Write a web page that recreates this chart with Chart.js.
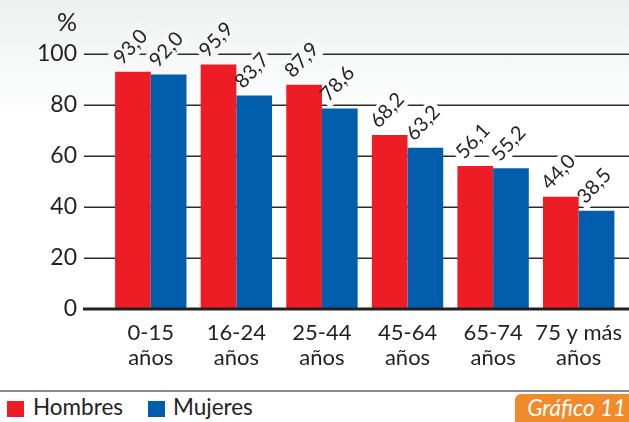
<!DOCTYPE html>
<html lang="es">
<head>
<meta charset="UTF-8">
<title>Gráfico 11</title>
<script src="https://cdn.jsdelivr.net/npm/chart.js"></script>
<style>
  body { margin: 0; width: 629px; height: 422px; overflow: hidden; background: #fff;
         font-family: Lato, "Open Sans", sans-serif; color: #231f20; }
  #zona { position: relative; width: 629px; height: 390px;
          background: linear-gradient(#eef0f0 0px, #ffffff 120px); }
  #pct { position: absolute; left: 57px; top: 6px; font-size: 25px; }
  #pie { position: absolute; left: 0; top: 390px; width: 629px; height: 32px; border-top: 2px solid #8a8a8a; }
  .cuadro { position: absolute; top: 9px; width: 17px; height: 16px; }
  .txt { position: absolute; top: 1px; font-size: 22.5px; line-height: 28px; }
  #graf11 { position: absolute; left: 515px; top: 2px; width: 114px; height: 28px; background: #f18a2b;
            border-top-left-radius: 6px; color: #fff; font-style: italic; font-size: 22.5px;
            line-height: 28px; text-align: right; box-sizing: border-box; padding-right: 3px; }
</style>
</head>
<body>
<div id="zona">
  <canvas id="grafico" width="629" height="390"></canvas>
  <div id="pct">%</div>
</div>
<div id="pie">
  <div class="cuadro" style="left:7px;background:#ee1d25"></div>
  <div class="txt" style="left:33px">Hombres</div>
  <div class="cuadro" style="left:148px;background:#005ead"></div>
  <div class="txt" style="left:173px">Mujeres</div>
  <div id="graf11">Gráfico 11</div>
</div>
<script>
const categorias = [['0-15', 'años'], ['16-24', 'años'], ['25-44', 'años'], ['45-64', 'años'], ['65-74', 'años'], ['75 y más', 'años']];
const hombres = [93.0, 95.9, 87.9, 68.2, 56.1, 44.0];
const mujeres = [92.0, 83.7, 78.6, 63.2, 55.2, 38.5];
const ticksY = [0, 20, 40, 60, 80, 100];

const ROJO = '#ee1d25';
const AZUL = '#005ead';
const ANG = -47 * Math.PI / 180;
const fuenteEtiq = '20px Lato, "Open Sans", sans-serif';

// color del fondo degradado a la altura y
function fondo(y) {
  const t = Math.max(0, Math.min(1, y / 120));
  const c = (a) => Math.round(a + (255 - a) * t);
  return `rgb(${c(238)},${c(240)},${c(240)})`;
}

function fmt(v) { return v.toFixed(1).replace('.', ','); }

function cadaBarra(chart, fn) {
  chart.data.datasets.forEach((ds, i) => {
    chart.getDatasetMeta(i).data.forEach((bar, j) => fn(bar, ds.data[j]));
  });
}

const lineas = {
  id: 'lineas',
  beforeDatasetsDraw(chart) {
    const { ctx } = chart;
    const y = chart.scales.y;
    ctx.save();
    ctx.strokeStyle = '#2b2b2b';
    ctx.lineWidth = 1.5;
    ticksY.filter(v => v > 0).forEach(v => {
      const py = Math.round(y.getPixelForValue(v)) + 0.25;
      ctx.beginPath();
      ctx.moveTo(84, py);
      ctx.lineTo(chart.width, py);
      ctx.stroke();
    });
    // cajas de fondo de las etiquetas (cortan las lineas)
    ctx.font = fuenteEtiq;
    cadaBarra(chart, (bar, v) => {
      const w = ctx.measureText(fmt(v)).width;
      ctx.save();
      ctx.translate(bar.x - 11, bar.y - 6);
      ctx.rotate(ANG);
      ctx.fillStyle = fondo(bar.y - 20);
      ctx.fillRect(-3, -18, w + 6, 23);
      ctx.restore();
    });
    ctx.restore();
  },
  afterDatasetsDraw(chart) {
    const { ctx } = chart;
    const y = chart.scales.y;
    ctx.save();
    const p0 = y.getPixelForValue(0);
    ctx.strokeStyle = '#231f20';
    ctx.lineWidth = 3;
    ctx.beginPath();
    ctx.moveTo(83, p0);
    ctx.lineTo(chart.width, p0);
    ctx.stroke();

    ctx.font = fuenteEtiq;
    ctx.fillStyle = '#231f20';
    ctx.textAlign = 'left';
    ctx.textBaseline = 'alphabetic';
    cadaBarra(chart, (bar, v) => {
      ctx.save();
      ctx.translate(bar.x - 11, bar.y - 6);
      ctx.rotate(ANG);
      ctx.fillText(fmt(v), 0, 0);
      ctx.restore();
    });
    ctx.restore();
  }
};

new Chart(document.getElementById('grafico').getContext('2d'), {
  type: 'bar',
  data: {
    labels: categorias,
    datasets: [
      { label: 'Hombres', data: hombres, backgroundColor: ROJO },
      { label: 'Mujeres', data: mujeres, backgroundColor: AZUL }
    ]
  },
  plugins: [lineas],
  options: {
    responsive: false,
    animation: false,
    devicePixelRatio: 1,
    layout: { padding: { top: 54, right: 7.5, left: 0, bottom: 0 } },
    datasets: { bar: { categoryPercentage: 0.834, barPercentage: 1, borderWidth: 0 } },
    plugins: { legend: { display: false }, tooltip: { enabled: false } },
    scales: {
      x: {
        grid: { display: false, drawTicks: false },
        border: { display: false },
        ticks: { color: '#231f20', padding: 11, font: { family: 'Lato, "Open Sans", sans-serif', size: 22, lineHeight: 1.14 }, maxRotation: 0, autoSkip: false },
        afterFit: (s) => { s.height = 81; s.paddingLeft = 0; s.paddingRight = 0; }
      },
      y: {
        min: 0,
        max: 100,
        grid: { display: false, drawTicks: false },
        border: { display: false },
        afterBuildTicks: (s) => { s.ticks = ticksY.map(v => ({ value: v })); },
        ticks: { color: '#231f20', padding: 31, font: { family: 'Lato, "Open Sans", sans-serif', size: 23 } },
        afterFit: (s) => { s.width = 108; }
      }
    }
  }
});
</script>
</body>
</html>
